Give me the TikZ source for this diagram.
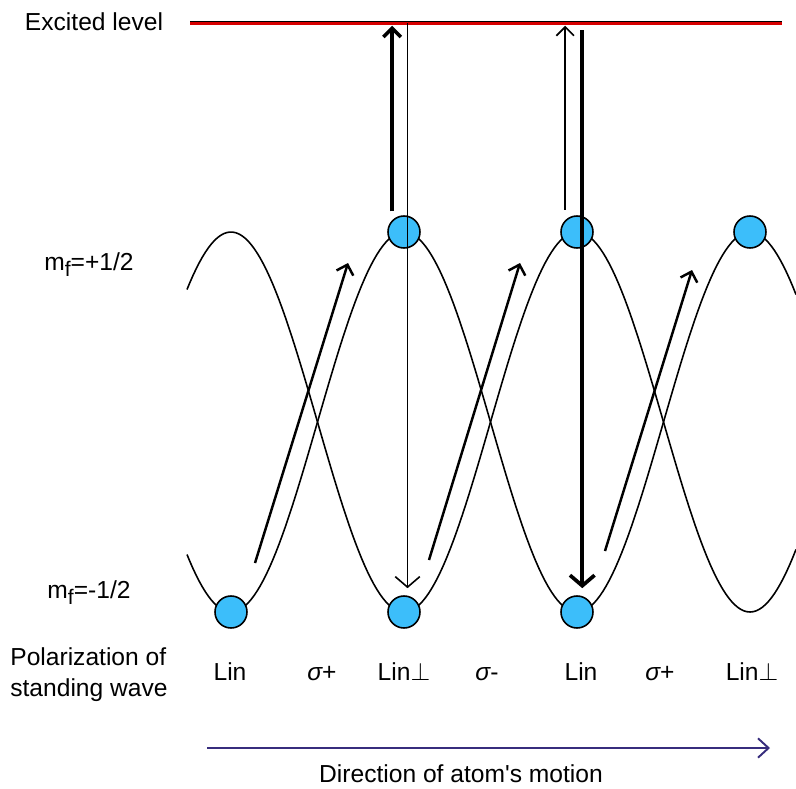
\documentclass[tikz,border=0pt]{standalone}
\usepackage{fontspec}
\setmainfont{Liberation Sans}
\usetikzlibrary{arrows.meta, positioning, calc}
\definecolor{atomblue}{RGB}{60,190,250}
\definecolor{levelred}{RGB}{215,0,0}
\definecolor{motionblue}{RGB}{55,45,125}

\begin{document}
\begin{tikzpicture}[
        x=0.02cm, y=-0.02cm,
        lbl/.style={font=\fontsize{14}{18}\selectfont, inner sep=0pt, anchor=base},
        atom/.style={circle, draw=black, line width=0.9pt, fill=atomblue, minimum size=0.64cm, inner sep=0pt},
        wave/.style={line width=0.9pt},
        pump/.style={line width=2.1pt, -{Straight Barb[length=5pt,width=10pt]}},
        decay/.style={line width=1pt, -{Straight Barb[length=6pt,width=14pt]}},
        diag/.style={line width=1.4pt, -{Straight Barb[length=5pt,width=10pt]}},
        motion/.style={draw=motionblue, line width=1.1pt, -{Straight Barb[length=6pt,width=11pt]}}
    ]
        \useasboundingbox (0,0) rectangle (796,789);

        \coordinate (lvl-l) at (190,23);
        \coordinate (lvl-r) at (782,23);
        \draw[line width=2.8pt] (lvl-l) -- (lvl-r);
        \draw[line width=1.7pt, levelred] (lvl-l) -- (lvl-r);
        \node[lbl] (exc) at (94,30) {Excited level};

        \draw[wave] plot[domain=187:796, samples=200] (\x, {422-190*cos((\x-231)/346*360)});
        \draw[wave] plot[domain=187:796, samples=200] (\x, {422+190*cos((\x-231)/346*360)});

        \node[atom] (b1) at (231,612) {};
        \node[atom] (b2) at (404,612) {};
        \node[atom] (b3) at (577,612) {};
        \node[atom] (t1) at (404,232) {};
        \node[atom] (t2) at (577,232) {};
        \node[atom] (t3) at (750,232) {};

        \coordinate (e1) at (t1 |- lvl-l);
        \coordinate (e2) at (t2 |- lvl-l);

        \draw[pump, shorten >=1.5pt] ([yshift=5pt]t1.north west) -- (t1.north west |- lvl-l);
        \draw[decay, line width=0.9pt, shorten >=4pt] ([xshift=2pt]e1) -- ([xshift=2pt]b2.north);
        \draw[pump, line width=1pt, shorten >=1.5pt] ([yshift=6pt]t2.north west) -- (t2.north west |- lvl-l);
        \draw[decay, line width=2.1pt, shorten >=4pt] ([xshift=3pt,yshift=-4pt]e2) -- ([xshift=3pt]b3.north);

        \draw[diag] ([shift={(24,-49)}]b1.center) -- ([shift={(-56,31)}]t1.center);
        \draw[diag] ([shift={(25,-52)}]b2.center) -- ([shift={(-57,31)}]t2.center);
        \draw[diag] ([shift={(28,-61)}]b3.center) -- ([shift={(-58,38)}]t3.center);

        \node[lbl] (mup) at (89,270) {m\raisebox{-0.5ex}{\fontsize{12}{12}\selectfont f}=+1/2};
        \node[lbl] (mdown) at (89,598) {m\raisebox{-0.5ex}{\fontsize{12}{12}\selectfont f}=-1/2};
        \node[lbl, align=left, anchor=north west] (pol) at (10,647) {Polarization of\\standing wave};

        \node[lbl] (p1) at (230,680) {Lin};
        \node[lbl] (p2) at (322,680) {{\itshape σ}+};
        \node[lbl] (p3) at (404,680) {Lin$\perp$};
        \node[lbl] (p4) at (487,680) {{\itshape σ}-};
        \node[lbl] (p5) at (581,680) {Lin};
        \node[lbl] (p6) at (660,680) {{\itshape σ}+};
        \node[lbl] (p7) at (752,680) {Lin$\perp$};

        \coordinate (m-start) at (207,748);
        \coordinate (m-end) at (770,748);
        \draw[motion] (m-start) -- (m-end);
        \node[lbl] (dir) at (461,782) {Direction of atom\textquotesingle s motion};
    \end{tikzpicture}
\end{document}
